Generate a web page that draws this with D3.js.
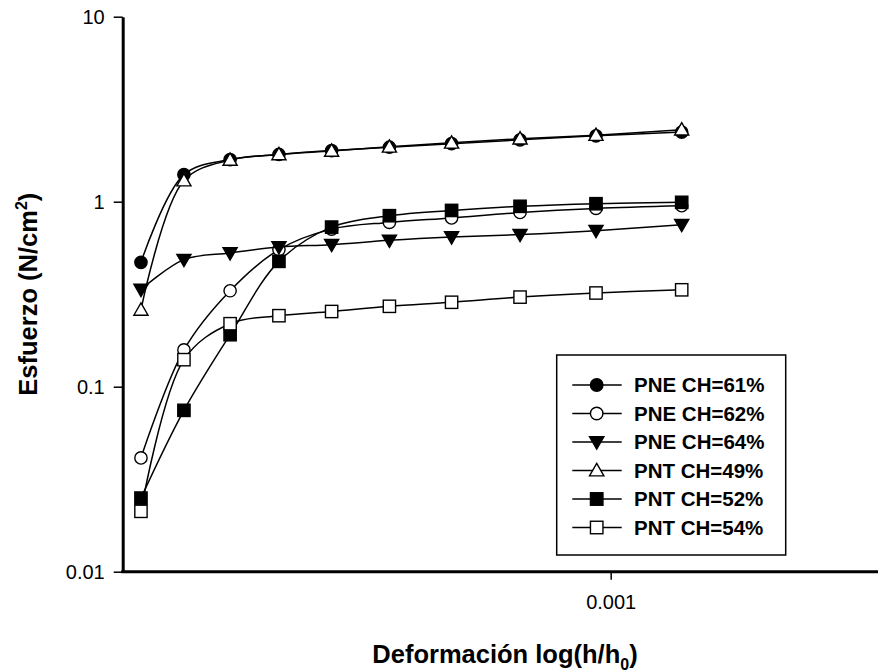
<!DOCTYPE html>
<html>
<head>
<meta charset="utf-8">
<script src="https://cdn.jsdelivr.net/npm/d3@7/dist/d3.min.js"></script>
<style>
  html, body { margin: 0; padding: 0; background: #fff; }
  svg { display: block; }
  text { font-family: Arial, "Liberation Sans", sans-serif; fill: #000; }
</style>
</head>
<body>
<svg id="chart" width="878" height="672"></svg>
<script>
// ---- Data ----
const strain = [0.000109, 0.0001335, 0.000166, 0.000209, 0.000268, 0.000352, 0.000472, 0.000652, 0.000933, 0.001398];
const seriesNames = ["PNE CH=61%", "PNE CH=62%", "PNE CH=64%", "PNT CH=49%", "PNT CH=52%", "PNT CH=54%"];
const pne61 = [0.47, 1.40, 1.69, 1.80, 1.89, 1.97, 2.06, 2.16, 2.27, 2.38];
const pne62 = [0.0412, 0.158, 0.330, 0.551, 0.711, 0.773, 0.817, 0.874, 0.920, 0.951];
const pne64 = [0.335, 0.486, 0.528, 0.569, 0.586, 0.618, 0.644, 0.664, 0.697, 0.751];
const pnt49 = [0.26, 1.30, 1.68, 1.80, 1.88, 1.98, 2.08, 2.19, 2.29, 2.45];
const pnt52 = [0.025, 0.0745, 0.191, 0.476, 0.729, 0.840, 0.897, 0.944, 0.975, 0.992];
const pnt54 = [0.0212, 0.140, 0.219, 0.242, 0.255, 0.272, 0.286, 0.305, 0.321, 0.334];
const yTickValues = [0.01, 0.1, 1, 10];
const yTickLabels = ["0.01", "0.1", "1", "10"];
const xTickValues = [0.001];
const xTickLabels = ["0.001"];

const seriesValues = [pne61, pne62, pne64, pnt49, pnt52, pnt54];
const markerShapes = ["circle", "circle", "triangleDown", "triangleUp", "square", "square"];
const markerFilled = [true, false, true, false, true, false];

// ---- Layout ----
const svg = d3.select("#chart");
const pLeft = 122.7, pRight = 878, pTop = 16.7, pBottom = 571.7;

const x = d3.scaleLog().domain([0.0001, 0.00353]).range([pLeft, pRight]);
const y = d3.scaleLog().domain([0.01, 10]).range([pBottom, pTop]);

// ---- Axes ----
const yAxis = d3.axisLeft(y).tickValues(yTickValues)
  .tickFormat((d, i) => yTickLabels[i]).tickSize(9).tickSizeOuter(0).tickPadding(9);
const gy = svg.append("g").attr("transform", `translate(${pLeft},0)`).call(yAxis);
gy.select(".domain").attr("stroke", "#000").attr("stroke-width", 3);
gy.selectAll(".tick line").attr("stroke", "#000").attr("stroke-width", 1.5);
gy.selectAll(".tick text").style("font-size", "20px").attr("fill", "#000");

const xAxis = d3.axisBottom(x).tickValues(xTickValues)
  .tickFormat((d, i) => xTickLabels[i]).tickSize(8).tickSizeOuter(0).tickPadding(15);
const gx = svg.append("g").attr("transform", `translate(0,${pBottom})`).call(xAxis);
gx.select(".domain").attr("stroke", "#000").attr("stroke-width", 3).attr("d", `M${pLeft - 1.5},0H${pRight + 10}`);
gx.selectAll(".tick line").attr("stroke", "#000").attr("stroke-width", 1.5);
gx.selectAll(".tick text").style("font-size", "20px").attr("fill", "#000");

// ---- Axis titles ----
const yTitle = svg.append("text")
  .attr("transform", `translate(37,${(pTop + pBottom) / 2}) rotate(-90)`)
  .attr("text-anchor", "middle")
  .style("font-size", "25.5px").style("font-weight", "bold");
yTitle.append("tspan").text("Esfuerzo (N/cm");
yTitle.append("tspan").text("2").style("font-size", "16px").attr("dy", -10);
yTitle.append("tspan").text(")").attr("dy", 10);

const xTitle = svg.append("text")
  .attr("x", 505).attr("y", 663)
  .attr("text-anchor", "middle")
  .style("font-size", "25.5px").style("font-weight", "bold");
xTitle.append("tspan").text("Deformación log(h/h");
xTitle.append("tspan").text("0").style("font-size", "16px").attr("dy", 7);
xTitle.append("tspan").text(")").attr("dy", -7);

// ---- Marker drawing ----
function drawMarker(g, shape, filled, cx, cy, s) {
  const fill = filled ? "#000" : "#fff";
  const common = el => el.attr("fill", fill).attr("stroke", "#000").attr("stroke-width", 1.4);
  if (shape === "circle") {
    common(g.append("circle").attr("cx", cx).attr("cy", cy).attr("r", s * 0.5));
  } else if (shape === "square") {
    common(g.append("rect").attr("x", cx - s / 2).attr("y", cy - s / 2).attr("width", s).attr("height", s));
  } else if (shape === "triangleUp") {
    const h = s * 0.95, w = s * 1.15;
    common(g.append("path").attr("d", `M${cx},${cy - h * 0.6}L${cx + w / 2},${cy + h * 0.45}L${cx - w / 2},${cy + h * 0.45}Z`));
  } else if (shape === "triangleDown") {
    const h = s * 0.95, w = s * 1.15;
    common(g.append("path").attr("d", `M${cx},${cy + h * 0.6}L${cx + w / 2},${cy - h * 0.45}L${cx - w / 2},${cy - h * 0.45}Z`));
  }
}

// ---- Series ----
const line = d3.line()
  .x(d => x(d[0])).y(d => y(d[1]))
  .curve(d3.curveCatmullRom.alpha(0.5));

seriesValues.forEach((vals, si) => {
  const pts = strain.map((s, i) => [s, vals[i]]);
  const g = svg.append("g");
  g.append("path").attr("d", line(pts))
    .attr("fill", "none").attr("stroke", "#000").attr("stroke-width", 1.5);
  pts.forEach(p => drawMarker(g, markerShapes[si], markerFilled[si], x(p[0]), y(p[1]), 12.3));
});

// ---- Legend ----
const lg = svg.append("g");
lg.append("rect").attr("x", 556.7).attr("y", 355).attr("width", 229).attr("height", 200)
  .attr("fill", "#fff").attr("stroke", "#000").attr("stroke-width", 1.5);
seriesNames.forEach((name, i) => {
  const cy = 385 + i * 28.5;
  lg.append("line").attr("x1", 572.3).attr("x2", 621.7).attr("y1", cy).attr("y2", cy)
    .attr("stroke", "#000").attr("stroke-width", 1.5);
  drawMarker(lg, markerShapes[i], markerFilled[i], 596.7, cy, 12.5);
  lg.append("text").attr("x", 634).attr("y", cy + 7.3)
    .style("font-size", "20.5px").style("font-weight", "bold").text(name);
});
</script>
</body>
</html>
